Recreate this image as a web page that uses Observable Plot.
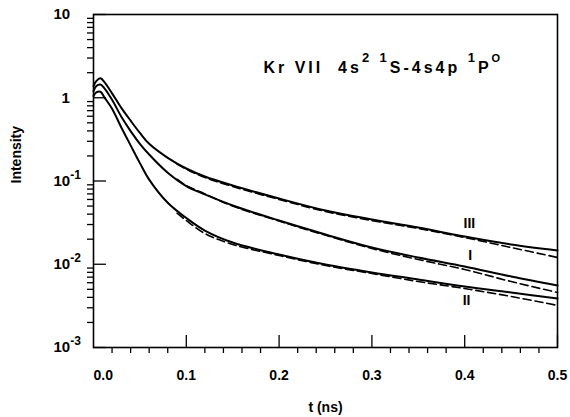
<!DOCTYPE html>
<html><head><meta charset="utf-8">
<script src="https://cdn.jsdelivr.net/npm/d3@7"></script>
<script src="https://cdn.jsdelivr.net/npm/@observablehq/plot@0.6"></script>
<style>
body{margin:0;background:#fff;}
#chart svg text{font-family:"Liberation Sans",Arial,Helvetica,sans-serif;font-weight:bold;white-space:pre;}
</style></head><body><div id="chart"></div>
<script>
// time samples (ns) of the measured decay curves
const tSample = [0, 0.003, 0.0075, 0.012, 0.02, 0.03, 0.04, 0.05, 0.06, 0.08, 0.1, 0.12, 0.15, 0.2, 0.25, 0.3, 0.35, 0.4, 0.45, 0.5];
const intensityI   = [1.20, 1.38, 1.445, 1.29, 0.946, 0.591, 0.398, 0.280, 0.208, 0.1256, 0.0869, 0.069, 0.0508, 0.0335, 0.0228, 0.0159, 0.01206, 0.0094, 0.00713, 0.00556];
const intensityII  = [1.05, 1.16, 1.18, 1.0, 0.738, 0.44, 0.268, 0.164, 0.104, 0.0548, 0.0359, 0.0254, 0.01825, 0.0131, 0.00993, 0.00796, 0.00656, 0.0054, 0.00458, 0.00388];
const intensityIII = [1.38, 1.585, 1.71, 1.53, 1.13, 0.755, 0.53, 0.378, 0.28, 0.19, 0.1413, 0.1132, 0.0883, 0.0616, 0.0442, 0.0345, 0.0276, 0.0215, 0.01727, 0.01463];
// fitted curves (dashed)
const tFit = [0.09, 0.1, 0.12, 0.15, 0.2, 0.25, 0.3, 0.35, 0.4, 0.45, 0.5];
const fitI   = [0.105, 0.0880, 0.0700, 0.0500, 0.0330, 0.0223, 0.01546, 0.0114, 0.00865, 0.0062, 0.00458];
const fitII  = [0.041, 0.0335, 0.0234, 0.01727, 0.01274, 0.00966, 0.00774, 0.0062, 0.00511, 0.0041, 0.0032];
const fitIII = [0.160, 0.139, 0.1102, 0.0859, 0.060, 0.0430, 0.0335, 0.0269, 0.02096, 0.0159, 0.01206];
// curve labels
const curveNames = ["III", "I", "II"];
const curveLabelT = [0.405, 0.406, 0.402];
const curveLabelV = [0.0309, 0.0127, 0.00367];
// axes
const xMajorTicks = [0, 0.1, 0.2, 0.3, 0.4, 0.5];
const xTickLabels = ["0.0", "0.1", "0.2", "0.3", "0.4", "0.5"];
const xMinorTicks = [0.02, 0.04, 0.06, 0.08, 0.12, 0.14, 0.16, 0.18, 0.22, 0.24, 0.26, 0.28, 0.32, 0.34, 0.36, 0.38, 0.42, 0.44, 0.46, 0.48];
const yMajorTicks = [10, 1, 0.1, 0.01, 0.001];
const yTickLabels = ["10", "1", "10^-1", "10^-2", "10^-3"];
const yMinorMultipliers = [2, 3, 4, 5, 6, 7, 8, 9];
const yMinorTicks = [0.001, 0.01, 0.1, 1].flatMap(d => yMinorMultipliers.map(m => +(m * d).toPrecision(3)));
const titleParts = [["Kr VII  4s", 0], ["2", 1], [" ", 0], ["1", 1], ["S-4s4p ", 0], ["1", 1], ["P", 0], ["O", 2]];
const titleText = titleParts.map(p => p[0]).join("");
const xLabel = "t (ns)";
const yLabel = "Intensity";

const W = 570, H = 417, mL = 93, mR = 13, mT = 14, mB = 70;
const fw = W - mL - mR, fh = H - mT - mB;

const solidSeries = [["I", intensityI], ["II", intensityII], ["III", intensityIII]];
const fitSeries = [["I", fitI], ["II", fitII], ["III", fitIII]];
const solidRows = solidSeries.flatMap(([s, vals]) => tSample.map((t, i) => ({t, v: vals[i], s})));
const fitRows = fitSeries.flatMap(([s, vals]) => tFit.map((t, i) => ({t, v: vals[i], s})));
const labelRows = curveNames.map((n, i) => ({n, t: curveLabelT[i], v: curveLabelV[i]}));

const plot = Plot.plot({
  width: W, height: H,
  marginLeft: mL, marginRight: mR, marginTop: mT, marginBottom: mB,
  style: {background: "white", color: "black", fontSize: "14px", fontFamily: "Liberation Sans, Arial, sans-serif"},
  x: {domain: [0, 0.5], label: null},
  y: {type: "log", domain: [0.001, 10], label: null},
  marks: [
    Plot.axisX({ticks: xMinorTicks, tickSize: 6, tickFormat: () => "", label: null, strokeWidth: 1.3}),
    Plot.axisX({ticks: xMajorTicks, tickSize: 0, tickPadding: 23, label: null,
      tickFormat: d => xTickLabels[xMajorTicks.indexOf(d)], fontSize: 14}),
    Plot.tickX(xMajorTicks.slice(1), {x: d => d, insetTop: fh - 12, strokeWidth: 1.3}),
    Plot.axisY({ticks: yMinorTicks, tickSize: 6, tickFormat: () => "", label: null, strokeWidth: 1.3}),
    Plot.axisY({ticks: yMajorTicks, tickSize: 0, tickPadding: 40, textAnchor: "start", label: null,
      tickFormat: d => yTickLabels[yMajorTicks.indexOf(d)], fontSize: 15}),
    Plot.tickY(yMajorTicks, {y: d => d, insetRight: fw - 13, strokeWidth: 1.3}),
    Plot.frame({strokeWidth: 1.6}),
    Plot.line(fitRows, {x: "t", y: "v", z: "s", curve: "catmull-rom", strokeWidth: 1.6, strokeDasharray: "8,4"}),
    Plot.line(solidRows, {x: "t", y: "v", z: "s", curve: "catmull-rom", strokeWidth: 2}),
    Plot.text(labelRows, {x: "t", y: "v", text: "n", fontSize: 14, fontWeight: "bold"}),
    Plot.text([titleText], {frameAnchor: "top-left", textAnchor: "start", fontSize: 16, fontWeight: "bold"}),
    Plot.text([yLabel], {frameAnchor: "left", rotate: -90, fontSize: 14, fontWeight: "bold"}),
    Plot.text([xLabel], {frameAnchor: "bottom", lineAnchor: "middle", dy: 60, fontSize: 14, fontWeight: "bold"})
  ]
});
document.getElementById("chart").appendChild(plot);
const root = d3.select(plot);

// superscripts for y tick labels
root.selectAll('g[aria-label="y-axis tick label"] text').each(function () {
  const s = this.textContent;
  if (s.includes("^")) {
    const [b, e] = s.split("^");
    this.textContent = "";
    d3.select(this).append("tspan").text(b);
    d3.select(this).append("tspan").attr("dy", "-7").attr("font-size", "12").text(e);
  } else if (s === "1") {
    d3.select(this).attr("dx", "8");
  }
});
// first x label starts at the frame edge
root.selectAll('g[aria-label="x-axis tick label"] text').each(function () {
  if (this.textContent === xTickLabels[0]) d3.select(this).attr("text-anchor", "start");
});
// rotated y-axis label placement
root.selectAll("text").filter(function () { return this.textContent === yLabel; })
  .attr("transform", "translate(20,183) rotate(-90)").attr("x", null).attr("y", null);
// title with superscripts, fitted to its span in the reference (x 263..500, baseline 72)
root.selectAll("text").filter(function () { return this.textContent === titleText; }).each(function () {
  const t = d3.select(this);
  this.textContent = "";
  t.attr("x", null).attr("y", null).attr("dy", null).attr("text-anchor", "start").attr("transform", null);
  let raised = false, nChars = 0;
  titleParts.forEach(([s, sup]) => {
    const ts = t.append("tspan").text(s);
    nChars += s.length;
    if (sup) ts.attr("font-size", sup === 2 ? "11" : "13");
    if (sup && !raised) { ts.attr("dy", "-11"); raised = true; }
    else if (!sup && raised) { ts.attr("dy", "11"); raised = false; }
  });
  const b0 = this.getBBox();
  const ls = Math.max(0, (237 - b0.width) / (nChars - 1));
  t.attr("letter-spacing", ls.toFixed(2));
  const b1 = this.getBBox();
  t.attr("transform", `translate(${263 - b1.x},72)`);
});
</script></body></html>
